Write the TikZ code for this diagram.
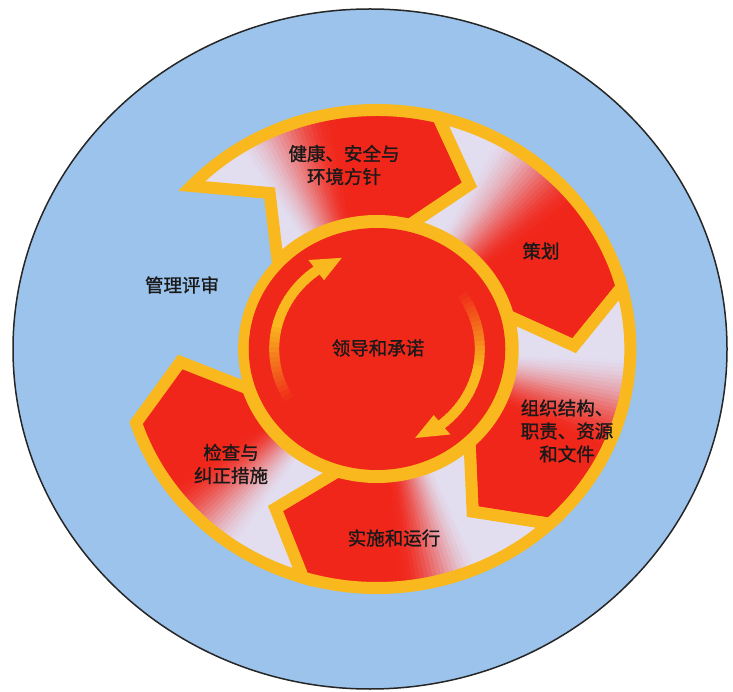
\documentclass[tikz,border=0pt]{standalone}
\usepackage{fontspec}
\newfontfamily\cjk{Noto Sans CJK SC}[FakeBold=1.2]
\usetikzlibrary{calc}
\definecolor{bluebg}{RGB}{155,195,235}
\definecolor{ygold}{RGB}{248,184,30}
\definecolor{segred}{RGB}{240,38,26}
\definecolor{segpale}{RGB}{226,222,240}
\definecolor{inred}{RGB}{240,40,26}
\tikzset{
  segline/.style={draw=ygold, line width=12pt, line join=miter, miter limit=5},
  segp/.style 2 args={insert path={(#1:239) arc[start angle=#1, end angle=#2, radius=239] -- (#2-14:186) -- (#2:128) arc[start angle=#2, end angle=#1, radius=128] -- (#1-14:186) -- cycle}},
  lbl/.style={font=\cjk\fontsize{18.5}{23}\selectfont, text=black!90, align=center, inner sep=0pt},
}
% gradient segment: #1 tail angle, #2 head angle, #3 pale limit, #4 red start
\newcommand\gradseg[4]{%
  \begin{scope}
    \clip[segp={#1}{#2}];
    \foreach \k in {0,...,79}{
      \pgfmathsetmacro\wa{#1+3-\k*(#1-#2+20)/80}
      \pgfmathsetmacro\wb{\wa-(#1-#2+20)/80-0.4}
      \pgfmathsetmacro\wt{(#1-\wa)/(#1-#2)}
      \pgfmathsetmacro\wl{min(1,max(0,(\wt-#3)/(#4-#3)))}
      \pgfmathtruncatemacro\wu{100*\wl*\wl*(3-2*\wl)}
      \fill[segred!\wu!segpale] (0,0) -- (\wa:262) arc[start angle=\wa, end angle=\wb, radius=262] -- cycle;
    }
  \end{scope}
  \draw[segline, segp={#1}{#2}];
}
\begin{document}
\begin{tikzpicture}[x=1pt,y=1pt]
\useasboundingbox (0,0) rectangle (733,691);
\fill[white] (0,0) rectangle (733,691);
\draw[fill=bluebg, line width=1.5pt, draw=black!85] (370,342) ellipse [x radius=357, y radius=340];
\begin{scope}[shift={(377,342)}, xscale=1.06]
  \gradseg{137}{76}{0.2}{0.6}
  \gradseg{76}{15}{0.2}{0.62}
  \gradseg{15}{-47}{0.25}{0.65}
  \gradseg{-47}{-107}{0.3}{0.62}
  \gradseg{-107}{-162}{0.28}{0.68}
  \fill[ygold] (0,0) circle [radius=131];
  \fill[inred] (0,0) circle [radius=121];
  \foreach \i in {0,...,29}{
    \pgfmathsetmacro\sa{214-\i*88/30}
    \pgfmathsetmacro\ea{\sa-88/30-0.6}
    \pgfmathtruncatemacro\mx{min(100,\i*100/16)}
    \draw[line width=10pt, draw=ygold!\mx!inred] (\sa:97) arc[start angle=\sa, end angle=\ea, radius=97];
    \pgfmathsetmacro\sb{37-\i*88/30}
    \pgfmathsetmacro\eb{\sb-88/30-0.6}
    \draw[line width=10pt, draw=ygold!\mx!inred] (\sb:97) arc[start angle=\sb, end angle=\eb, radius=97];
  }
  \fill[ygold] (126:85) -- (110:97) -- (126:110) -- cycle;
  \fill[ygold] (-51:85) -- (-68:96) -- (-51:110) -- cycle;
\end{scope}
\node[lbl] (policy) at (344,526) {健康、安全与\\环境方针};
\node[lbl] (plan) at (541,440) {策划};
\node[lbl] (review) at (182,406) {管理评审};
\node[lbl] (lead) at (378,343) {领导和承诺};
\node[lbl] (org) at (567,260) {组织结构、\\职责、资源\\和文件};
\node[lbl] (check) at (231,227) {检查与\\纠正措施};
\node[lbl] (impl) at (394,153) {实施和运行};
\end{tikzpicture}
\end{document}
